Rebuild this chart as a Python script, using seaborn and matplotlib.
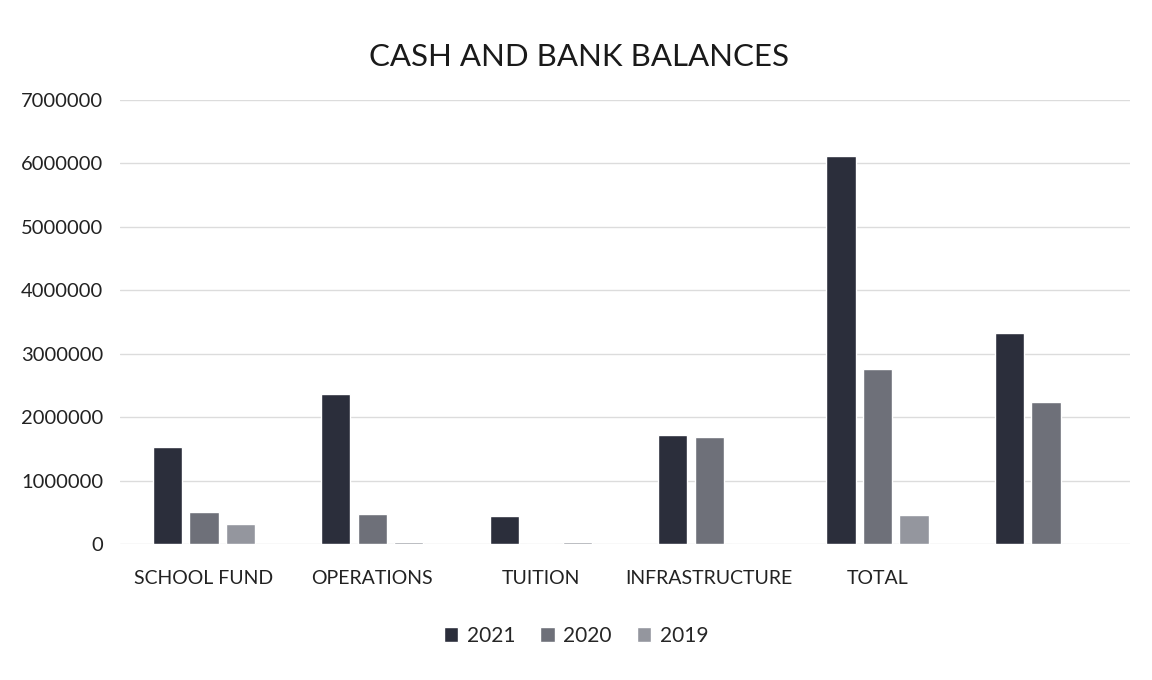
import matplotlib
matplotlib.use("Agg")
import matplotlib.pyplot as plt
import seaborn as sns
import pandas as pd

categories = ["SCHOOL FUND", "OPERATIONS", "TUITION", "INFRASTRUCTURE", "TOTAL", ""]
years = ["2021", "2020", "2019"]
values_2021 = [1530000, 2370000, 440000, 1720000, 6120000, 3320000]
values_2020 = [500000, 470000, 0, 1680000, 2760000, 2240000]
values_2019 = [320000, 35000, 35000, 0, 450000, 0]
yticks = [0, 1000000, 2000000, 3000000, 4000000, 5000000, 6000000, 7000000]

rows = []
for yr, vals in zip(years, [values_2021, values_2020, values_2019]):
    for c, v in zip(categories, vals):
        rows.append({"category": c, "year": yr, "value": v})
df = pd.DataFrame(rows)

sns.set_theme(style="white")
plt.rcParams["font.family"] = ["Lato", "DejaVu Sans"]

fig = plt.figure(figsize=(11.52, 6.8), dpi=100)
ax = fig.add_axes([0.104, 0.2, 0.877, 0.653])

palette = {"2021": "#2b2e3b", "2020": "#6e7079", "2019": "#94969e"}
sns.barplot(data=df, x="category", y="value", hue="year", order=categories,
            hue_order=years, palette=palette, width=0.65, gap=0.2,
            saturation=1, ax=ax, legend=True)

ax.set_ylim(0, 7000000)
ax.set_yticks(yticks)
ax.set_yticklabels([str(t) for t in yticks], fontsize=14.5, color="#222222")
ax.tick_params(axis="x", labelsize=14, colors="#222222", pad=13)
ax.tick_params(axis="y", pad=12, length=0)
ax.set_xlabel("")
ax.set_ylabel("")
ax.yaxis.grid(True, color="#dcdcdc", linewidth=1)
ax.set_axisbelow(True)
for s in ax.spines.values():
    s.set_visible(False)

fig.text(0.503, 0.916, "CASH AND BANK BALANCES", ha="center", va="center",
         fontsize=22.5, color="#1a1a1a")

handles, labels = ax.get_legend_handles_labels()
ax.legend(handles, labels, loc="center", bbox_to_anchor=(0.5, 0.065),
          bbox_transform=fig.transFigure, ncol=3, frameon=False,
          handlelength=0.7, handleheight=0.7, handletextpad=0.4,
          columnspacing=1.2, fontsize=15)

fig.savefig("out.png", dpi=100, facecolor="white")
